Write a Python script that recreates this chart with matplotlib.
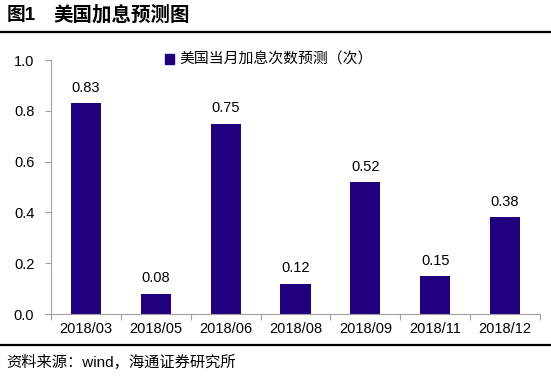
import matplotlib
matplotlib.use('Agg')
import matplotlib.pyplot as plt
from matplotlib.patches import Patch
from matplotlib.lines import Line2D

plt.rcParams['font.family'] = ['Liberation Sans', 'Noto Sans CJK SC', 'DejaVu Sans']

# 数据
months = ['2018/03', '2018/05', '2018/06', '2018/08', '2018/09', '2018/11', '2018/12']
hike_counts = [0.83, 0.08, 0.75, 0.12, 0.52, 0.15, 0.38]
series_name = '美国当月加息次数预测（次）'

bar_color = '#21007F'
spine_color = '#A0A0A0'

fig = plt.figure(figsize=(5.51, 3.77), dpi=100)
ax = fig.add_axes([51 / 551, 1 - 314 / 377, (540 - 51) / 551, (314 - 60) / 377])

x = list(range(len(months)))
ax.bar(x, hike_counts, width=0.43, color=bar_color, zorder=2)

# 数值标签
for i, v in enumerate(hike_counts):
    ax.annotate(f'{v:.2f}', (i, v), xytext=(0, 6), textcoords='offset points',
                ha='center', va='bottom', fontsize=10.5)

ax.set_xlim(-0.5, len(months) - 0.5)
ax.set_ylim(0, 1.0)
ax.set_yticks([0, 0.2, 0.4, 0.6, 0.8, 1.0])
ax.set_yticklabels(['0.0', '0.2', '0.4', '0.6', '0.8', '1.0'], fontsize=10.5)

# x 轴刻度在类别边界
ax.set_xticks([i + 0.5 for i in range(-1, len(months))], minor=False)
ax.set_xticklabels([])
ax.set_xticks(x, minor=True)
ax.set_xticklabels(months, minor=True, fontsize=10.5)
ax.tick_params(axis='x', which='minor', length=0, pad=6)
ax.tick_params(axis='x', which='major', length=4, color=spine_color, direction='out')
ax.tick_params(axis='y', length=4, color=spine_color, direction='out', pad=8)

for side in ['top', 'right']:
    ax.spines[side].set_visible(False)
for side in ['left', 'bottom']:
    ax.spines[side].set_color(spine_color)

handle = Patch(facecolor=bar_color, edgecolor=bar_color)
ax.legend([handle], [series_name], loc='center', bbox_to_anchor=(0.445, 1.0),
          frameon=False, handlelength=0.6, handleheight=0.6, handletextpad=0.35,
          prop={'family': ['Noto Sans CJK SC'], 'size': 10.7})

# 标题与来源
fig.text(7 / 551, 1 - 15 / 377, '图1', fontsize=13.5, fontweight='bold',
         ha='left', va='center', family=['Liberation Sans', 'Noto Sans CJK SC'])
fig.text(53 / 551, 1 - 15 / 377, '美国加息预测图', fontsize=14, fontweight='bold',
         ha='left', va='center', family=['Noto Sans CJK SC'])
fig.text(6 / 551, 1 - 362 / 377, '资料来源：wind，海通证券研究所', fontsize=11,
         ha='left', va='center')

fig.add_artist(Line2D([0, 1], [1 - 32 / 377, 1 - 32 / 377], color='black', linewidth=1.6,
                      transform=fig.transFigure))
fig.add_artist(Line2D([0, 1], [1 - 345 / 377, 1 - 345 / 377], color='black', linewidth=1.6,
                      transform=fig.transFigure))

fig.savefig('out.png', dpi=100)
